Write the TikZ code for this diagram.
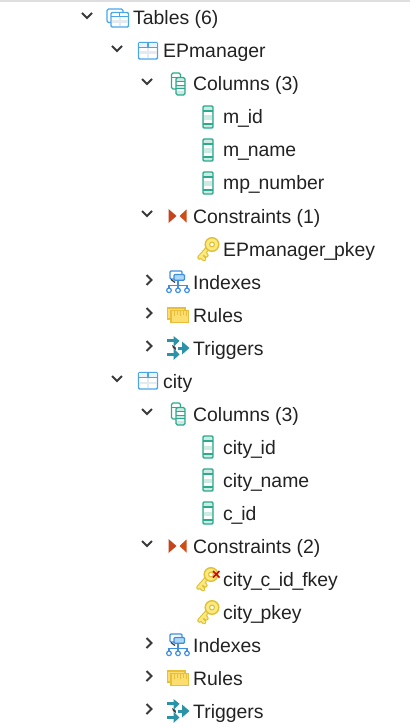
\documentclass[tikz,border=0pt]{standalone}
\usepackage{fontspec}
\setmainfont{Liberation Sans}
\definecolor{txt}{HTML}{222222}
\definecolor{chev}{HTML}{3A3A3A}
\definecolor{tblue}{HTML}{4BA6E8}
\definecolor{tfill}{HTML}{E4EAF0}
\definecolor{cgreen}{HTML}{2BAA8E}
\definecolor{cfill}{HTML}{CDEBE2}
\definecolor{conred}{HTML}{C8431A}
\definecolor{keyline}{HTML}{E0C038}
\definecolor{keyfill}{HTML}{FBE97E}
\definecolor{rulline}{HTML}{E8BE3A}
\definecolor{rulfill}{HTML}{FBDD70}
\definecolor{idxblue}{HTML}{3F8FE0}
\definecolor{trig}{HTML}{2A93A8}
\newcommand{\us}{\kern-1.2pt\_\kern-1.2pt}
\tikzset{
  x=1pt,y=-1pt,
  lab/.style={anchor=base west,inner sep=0pt,font=\fontsize{19.4}{21}\selectfont,text=txt},
  chevline/.style={draw=chev,line width=1.9pt,line cap=butt,line join=miter},
  pics/chevdown/.style={code={\draw[chevline] (-5,-3)--(0,2)--(5,-3);}},
  pics/chevright/.style={code={\draw[chevline] (-2.5,-5)--(2.5,0)--(-2.5,5);}},
  pics/tbl/.style={code={
    \draw[draw=tblue,fill=white,line width=1.4pt,rounded corners=1.2pt] (-9.5,-8.5) rectangle (9.5,8);
    \fill[tfill] (-8.7,0.5) rectangle (8.7,3);
    \fill[tfill] (-1.3,-3.6) rectangle (1.3,7.2);
    \fill[tblue!12!white] (-8.7,-7.7) rectangle (8.7,-4.2);
    \draw[tblue,line width=1.2pt] (-9.5,-3.4) -- (9.5,-3.4) (0,-8.5)--(0,-3.4);
  }},
  pics/tbls/.style={code={
    \draw[draw=tblue,fill=white,line width=1.3pt,rounded corners=1.5pt] (-11,-9) rectangle (5,4.5);
    \begin{scope}[shift={(1.5,1.5)}]
    \draw[draw=tblue,fill=white,line width=1.4pt,rounded corners=1.2pt] (-8.5,-7) rectangle (9,7.5);
    \fill[tfill] (-7.7,1) rectangle (8.2,3.2);
    \fill[tfill] (-1,-2.5) rectangle (1.4,6.7);
    \draw[tblue,line width=1.2pt] (-8.5,-2.8) -- (9,-2.8) (0.2,-7)--(0.2,-2.8);
    \end{scope}
  }},
  pics/cols/.style={code={
    \draw[draw=cgreen,fill=white,line width=1.3pt,rounded corners=1.5pt] (-6.5,-11) rectangle (2.5,5);
    \draw[cgreen,line width=1.1pt] (-6.5,-6.5)--(2.5,-6.5);
    \draw[draw=cgreen,fill=cfill,line width=1.3pt,rounded corners=1.5pt] (-2,-6.5) rectangle (7,11);
    \fill[white] (-1.3,-2) rectangle (6.3,1);
    \fill[white] (-1.3,4.5) rectangle (6.3,7.2);
    \draw[cgreen,line width=1.1pt] (-2,-2.2)--(7,-2.2) (-2,1.5)--(7,1.5) (-2,4.5)--(7,4.5);
  }},
  pics/col/.style={code={
    \draw[draw=cgreen,fill=cfill,line width=1.4pt,rounded corners=1.2pt] (-5,-11) rectangle (5,11);
    \fill[white] (-4.3,-5.5) rectangle (4.3,-1.5);
    \fill[white] (-4.3,3) rectangle (4.3,6.5);
    \draw[cgreen,line width=1.2pt] (-5,-6)--(5,-6) (-5,7)--(5,7);
  }},
  pics/cons/.style={code={
    \fill[conred] (-9.5,-7) -- (-1.5,0) -- (-9.5,7) -- cycle;
    \fill[conred!85!orange] (8.5,-6.5) -- (1.5,0) -- (8.5,6.5) -- cycle;
  }},
  pics/keyi/.style={code={
    \draw[keyline,line width=4.6pt,line cap=round,line join=round] (0,-2) -- (-8.5,7.5) (-7,6)--(-4,9) (-4,2.8)--(-1.6,5.4);
    \draw[keyfill,line width=2.4pt,line cap=round,line join=round] (0,-2) -- (-8.5,7.5) (-7,6)--(-4,9) (-4,2.8)--(-1.6,5.4);
    \draw[draw=keyline,fill=keyfill,line width=1.4pt] (4,-5.5) circle[radius=6.8];
    \draw[draw=keyline,fill=white,line width=1.1pt] (4,-5.5) circle[radius=2.4];
  }},
  pics/idx/.style={code={
    \draw[idxblue,line width=1.2pt] (0,-2)--(0,6) (-9,6)--(-9,3.5)--(9,3.5)--(9,6);
    \draw[draw=idxblue,fill=white,line width=1.3pt,rounded corners=1pt] (-8,-11) rectangle (4,-3);
    \draw[draw=idxblue,fill=tblue!45!white,line width=1.3pt,rounded corners=1pt] (-4,-7.5) rectangle (6.5,-1.8);
    \draw[chev,line width=1.2pt] (-7,-2.5)--(-3,0.5);
    \foreach \q in {-9,0,9}{\draw[draw=idxblue,fill=white,line width=1.2pt] (\q,8.3) circle[radius=2.3];}
  }},
  pics/rul/.style={code={
    \draw[draw=rulline,fill=rulfill,line width=1.4pt] (-10.5,-7) rectangle (7,4);
    \draw[draw=rulline,fill=rulfill,line width=1.4pt] (-7,-4.5) rectangle (10.5,7.5);
    \draw[rulline,line width=1pt] (-4,-4.5)--(-4,1) (-1,-4.5)--(-1,-0.5) (2,-4.5)--(2,1) (5,-4.5)--(5,-0.5) (8,-4.5)--(8,1);
  }},
  pics/trg/.style={code={
    \fill[trig] (-11,-8.8) rectangle (-3.5,-5.7);
    \fill[trig] (-4.5,-12) -- (1.5,-7.2) -- (-4.5,-1) -- cycle;
    \fill[trig] (-11,4.9) rectangle (-3.5,8);
    \fill[trig] (-4.5,0.5) -- (1.5,6.5) -- (-4.5,12) -- cycle;
    \fill[chev] (-6,-3) -- (-2.5,-1) -- (-2,2) -- (-5,0) -- cycle;
    \fill[trig] (0,-1.5) rectangle (5,1.5);
    \fill[trig] (4,-6.5) -- (11.5,0) -- (4,6.5) -- cycle;
  }},
}
\begin{document}
\begin{tikzpicture}
\useasboundingbox (0,0) rectangle (410,727);
\fill[white] (0,0) rectangle (410,727);
\fill[black!13] (0,0) rectangle (410,2);
% Tables
\pic at (87,16) {chevdown}; \pic at (118,18) {tbls};
\node[lab] (n1) at (133,25) {Tables (6)};
% EPmanager
\pic at (117,49) {chevdown}; \pic at (148,51) {tbl};
\node[lab] (n2) at (163,58) {EPmanager};
\pic at (147,82) {chevdown}; \pic at (178,84) {cols};
\node[lab] (n3) at (193,91) {Columns (3)};
\pic at (208,117) {col}; \node[lab] (n4) at (223,124) {m\us id};
\pic at (208,150) {col}; \node[lab] (n5) at (223,157) {m\us name};
\pic at (208,183) {col}; \node[lab] (n6) at (223,190) {mp\us number};
\pic at (147,214) {chevdown}; \pic at (178,216) {cons};
\node[lab] (n7) at (193,223) {Constraints (1)};
\pic at (208,250) {keyi}; \node[lab] (n8) at (223,256) {EPmanager\us pkey};
\pic at (149,280) {chevright}; \pic at (178,282) {idx};
\node[lab] (n9) at (193,289) {Indexes};
\pic at (149,313) {chevright}; \pic at (178,315) {rul};
\node[lab] (n10) at (193,322) {Rules};
\pic at (149,346) {chevright}; \pic at (178,348) {trg};
\node[lab] (n11) at (193,355) {Triggers};
% city
\pic at (117,379) {chevdown}; \pic at (148,381) {tbl};
\node[lab] (n12) at (163,388) {city};
\pic at (147,412) {chevdown}; \pic at (178,414) {cols};
\node[lab] (n13) at (193,421) {Columns (3)};
\pic at (208,447) {col}; \node[lab] (n14) at (223,454) {city\us id};
\pic at (208,480) {col}; \node[lab] (n15) at (223,487) {city\us name};
\pic at (208,513) {col}; \node[lab] (n16) at (223,520) {c\us id};
\pic at (147,544) {chevdown}; \pic at (178,546) {cons};
\node[lab] (n17) at (193,553) {Constraints (2)};
\pic at (207,580) {keyi}; \node[lab] (n18) at (223,586) {city\us c\us id\us fkey};
\draw[red!85!black,line width=1.5pt] (213,571)--(219.5,577.5) (219.5,571)--(213,577.5);
\pic at (208,613) {keyi}; \node[lab] (n19) at (223,619) {city\us pkey};
\pic at (149,643) {chevright}; \pic at (178,645) {idx};
\node[lab] (n20) at (193,652) {Indexes};
\pic at (149,676) {chevright}; \pic at (178,678) {rul};
\node[lab] (n21) at (193,685) {Rules};
\pic at (149,709) {chevright}; \pic at (178,711) {trg};
\node[lab] (n22) at (193,718) {Triggers};
\end{tikzpicture}
\end{document}
